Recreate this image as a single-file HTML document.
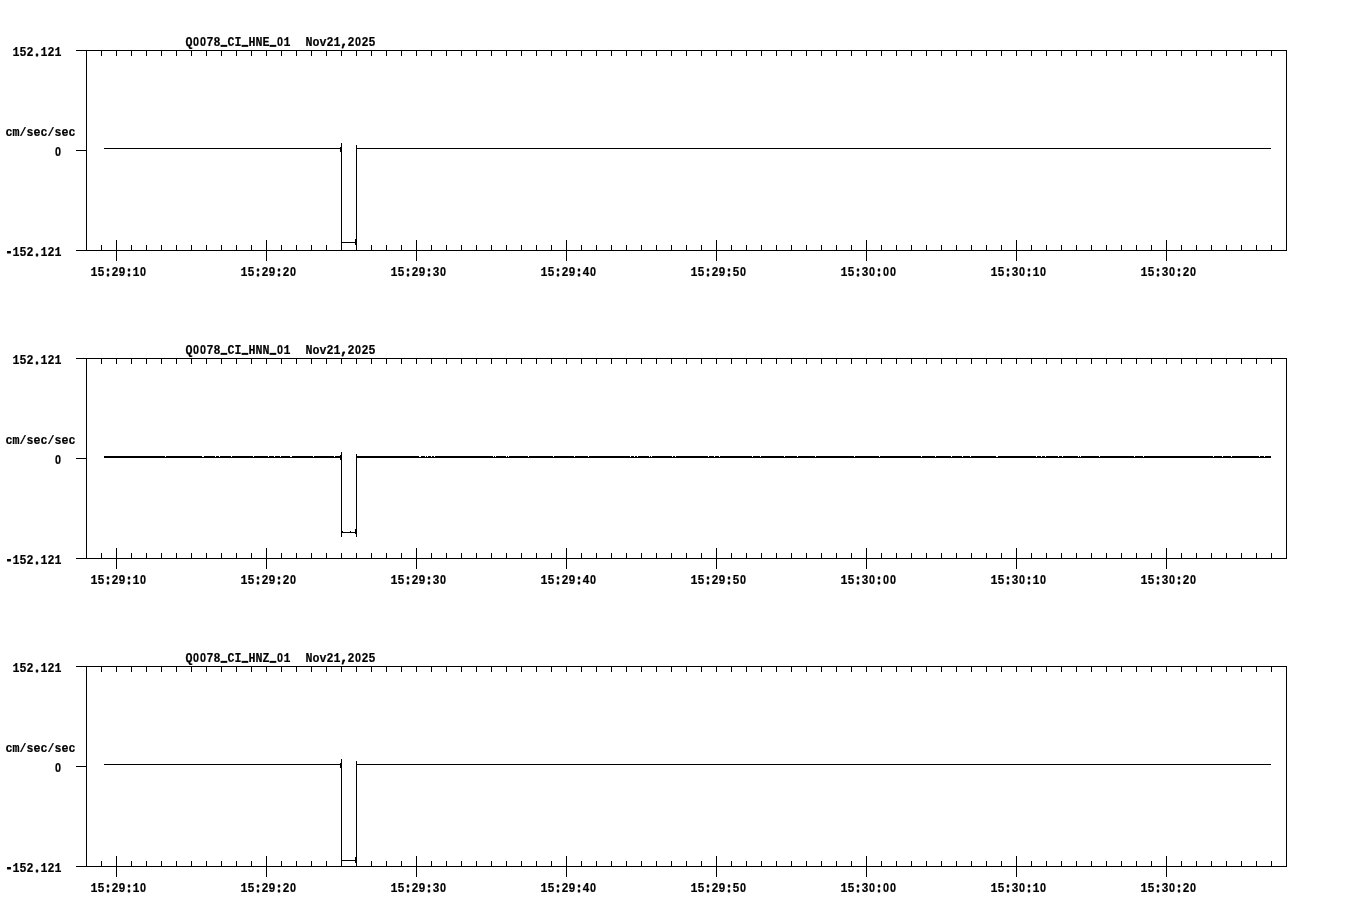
<!DOCTYPE html>
<html lang="en">
<head>
<meta charset="utf-8">
<title>Q0078 CI HN waveforms</title>
<style>
html,body{margin:0;padding:0;background:#fff;}
body{width:1358px;height:924px;overflow:hidden;}
svg{display:block;will-change:transform;}
svg rect{fill:#000;shape-rendering:crispEdges;}
svg text{font-family:"Liberation Mono", monospace;font-weight:bold;font-size:13.6px;fill:#000;stroke:#000;stroke-width:0.2px;stroke-linejoin:round;text-anchor:middle;white-space:pre;}
svg text .z{font-family:"Liberation Sans",sans-serif;font-size:12.6px;}
svg text .p{stroke-width:0.9px;}
svg text .u{font-size:10.4px;stroke-width:1.5px;stroke-linejoin:miter;text-rendering:geometricPrecision;}
</style>
</head>
<body>
<svg width="1358" height="924" viewBox="0 0 1358 924">
<g class="axes">
<rect x="76" y="50" width="1211" height="1"/>
<rect x="76" y="250" width="1211" height="1"/>
<rect x="86" y="50" width="1" height="201"/>
<rect x="1286" y="50" width="1" height="201"/>
<rect x="76" y="150" width="10" height="1"/>
<rect x="101" y="50" width="1" height="6"/>
<rect x="101" y="245" width="1" height="6"/>
<rect x="116" y="50" width="1" height="6"/>
<rect x="116" y="245" width="1" height="6"/>
<rect x="131" y="50" width="1" height="6"/>
<rect x="131" y="245" width="1" height="6"/>
<rect x="146" y="50" width="1" height="6"/>
<rect x="146" y="245" width="1" height="6"/>
<rect x="161" y="50" width="1" height="6"/>
<rect x="161" y="245" width="1" height="6"/>
<rect x="176" y="50" width="1" height="6"/>
<rect x="176" y="245" width="1" height="6"/>
<rect x="191" y="50" width="1" height="6"/>
<rect x="191" y="245" width="1" height="6"/>
<rect x="206" y="50" width="1" height="6"/>
<rect x="206" y="245" width="1" height="6"/>
<rect x="221" y="50" width="1" height="6"/>
<rect x="221" y="245" width="1" height="6"/>
<rect x="236" y="50" width="1" height="6"/>
<rect x="236" y="245" width="1" height="6"/>
<rect x="251" y="50" width="1" height="6"/>
<rect x="251" y="245" width="1" height="6"/>
<rect x="266" y="50" width="1" height="6"/>
<rect x="266" y="245" width="1" height="6"/>
<rect x="281" y="50" width="1" height="6"/>
<rect x="281" y="245" width="1" height="6"/>
<rect x="296" y="50" width="1" height="6"/>
<rect x="296" y="245" width="1" height="6"/>
<rect x="311" y="50" width="1" height="6"/>
<rect x="311" y="245" width="1" height="6"/>
<rect x="326" y="50" width="1" height="6"/>
<rect x="326" y="245" width="1" height="6"/>
<rect x="341" y="50" width="1" height="6"/>
<rect x="341" y="245" width="1" height="6"/>
<rect x="356" y="50" width="1" height="6"/>
<rect x="356" y="245" width="1" height="6"/>
<rect x="371" y="50" width="1" height="6"/>
<rect x="371" y="245" width="1" height="6"/>
<rect x="386" y="50" width="1" height="6"/>
<rect x="386" y="245" width="1" height="6"/>
<rect x="401" y="50" width="1" height="6"/>
<rect x="401" y="245" width="1" height="6"/>
<rect x="416" y="50" width="1" height="6"/>
<rect x="416" y="245" width="1" height="6"/>
<rect x="431" y="50" width="1" height="6"/>
<rect x="431" y="245" width="1" height="6"/>
<rect x="446" y="50" width="1" height="6"/>
<rect x="446" y="245" width="1" height="6"/>
<rect x="461" y="50" width="1" height="6"/>
<rect x="461" y="245" width="1" height="6"/>
<rect x="476" y="50" width="1" height="6"/>
<rect x="476" y="245" width="1" height="6"/>
<rect x="491" y="50" width="1" height="6"/>
<rect x="491" y="245" width="1" height="6"/>
<rect x="506" y="50" width="1" height="6"/>
<rect x="506" y="245" width="1" height="6"/>
<rect x="521" y="50" width="1" height="6"/>
<rect x="521" y="245" width="1" height="6"/>
<rect x="536" y="50" width="1" height="6"/>
<rect x="536" y="245" width="1" height="6"/>
<rect x="551" y="50" width="1" height="6"/>
<rect x="551" y="245" width="1" height="6"/>
<rect x="566" y="50" width="1" height="6"/>
<rect x="566" y="245" width="1" height="6"/>
<rect x="581" y="50" width="1" height="6"/>
<rect x="581" y="245" width="1" height="6"/>
<rect x="596" y="50" width="1" height="6"/>
<rect x="596" y="245" width="1" height="6"/>
<rect x="611" y="50" width="1" height="6"/>
<rect x="611" y="245" width="1" height="6"/>
<rect x="626" y="50" width="1" height="6"/>
<rect x="626" y="245" width="1" height="6"/>
<rect x="641" y="50" width="1" height="6"/>
<rect x="641" y="245" width="1" height="6"/>
<rect x="656" y="50" width="1" height="6"/>
<rect x="656" y="245" width="1" height="6"/>
<rect x="671" y="50" width="1" height="6"/>
<rect x="671" y="245" width="1" height="6"/>
<rect x="686" y="50" width="1" height="6"/>
<rect x="686" y="245" width="1" height="6"/>
<rect x="701" y="50" width="1" height="6"/>
<rect x="701" y="245" width="1" height="6"/>
<rect x="716" y="50" width="1" height="6"/>
<rect x="716" y="245" width="1" height="6"/>
<rect x="731" y="50" width="1" height="6"/>
<rect x="731" y="245" width="1" height="6"/>
<rect x="746" y="50" width="1" height="6"/>
<rect x="746" y="245" width="1" height="6"/>
<rect x="761" y="50" width="1" height="6"/>
<rect x="761" y="245" width="1" height="6"/>
<rect x="776" y="50" width="1" height="6"/>
<rect x="776" y="245" width="1" height="6"/>
<rect x="791" y="50" width="1" height="6"/>
<rect x="791" y="245" width="1" height="6"/>
<rect x="806" y="50" width="1" height="6"/>
<rect x="806" y="245" width="1" height="6"/>
<rect x="821" y="50" width="1" height="6"/>
<rect x="821" y="245" width="1" height="6"/>
<rect x="836" y="50" width="1" height="6"/>
<rect x="836" y="245" width="1" height="6"/>
<rect x="851" y="50" width="1" height="6"/>
<rect x="851" y="245" width="1" height="6"/>
<rect x="866" y="50" width="1" height="6"/>
<rect x="866" y="245" width="1" height="6"/>
<rect x="881" y="50" width="1" height="6"/>
<rect x="881" y="245" width="1" height="6"/>
<rect x="896" y="50" width="1" height="6"/>
<rect x="896" y="245" width="1" height="6"/>
<rect x="911" y="50" width="1" height="6"/>
<rect x="911" y="245" width="1" height="6"/>
<rect x="926" y="50" width="1" height="6"/>
<rect x="926" y="245" width="1" height="6"/>
<rect x="941" y="50" width="1" height="6"/>
<rect x="941" y="245" width="1" height="6"/>
<rect x="956" y="50" width="1" height="6"/>
<rect x="956" y="245" width="1" height="6"/>
<rect x="971" y="50" width="1" height="6"/>
<rect x="971" y="245" width="1" height="6"/>
<rect x="986" y="50" width="1" height="6"/>
<rect x="986" y="245" width="1" height="6"/>
<rect x="1001" y="50" width="1" height="6"/>
<rect x="1001" y="245" width="1" height="6"/>
<rect x="1016" y="50" width="1" height="6"/>
<rect x="1016" y="245" width="1" height="6"/>
<rect x="1031" y="50" width="1" height="6"/>
<rect x="1031" y="245" width="1" height="6"/>
<rect x="1046" y="50" width="1" height="6"/>
<rect x="1046" y="245" width="1" height="6"/>
<rect x="1061" y="50" width="1" height="6"/>
<rect x="1061" y="245" width="1" height="6"/>
<rect x="1076" y="50" width="1" height="6"/>
<rect x="1076" y="245" width="1" height="6"/>
<rect x="1091" y="50" width="1" height="6"/>
<rect x="1091" y="245" width="1" height="6"/>
<rect x="1106" y="50" width="1" height="6"/>
<rect x="1106" y="245" width="1" height="6"/>
<rect x="1121" y="50" width="1" height="6"/>
<rect x="1121" y="245" width="1" height="6"/>
<rect x="1136" y="50" width="1" height="6"/>
<rect x="1136" y="245" width="1" height="6"/>
<rect x="1151" y="50" width="1" height="6"/>
<rect x="1151" y="245" width="1" height="6"/>
<rect x="1166" y="50" width="1" height="6"/>
<rect x="1166" y="245" width="1" height="6"/>
<rect x="1181" y="50" width="1" height="6"/>
<rect x="1181" y="245" width="1" height="6"/>
<rect x="1196" y="50" width="1" height="6"/>
<rect x="1196" y="245" width="1" height="6"/>
<rect x="1211" y="50" width="1" height="6"/>
<rect x="1211" y="245" width="1" height="6"/>
<rect x="1226" y="50" width="1" height="6"/>
<rect x="1226" y="245" width="1" height="6"/>
<rect x="1241" y="50" width="1" height="6"/>
<rect x="1241" y="245" width="1" height="6"/>
<rect x="1256" y="50" width="1" height="6"/>
<rect x="1256" y="245" width="1" height="6"/>
<rect x="1271" y="50" width="1" height="6"/>
<rect x="1271" y="245" width="1" height="6"/>
<rect x="116" y="240" width="1" height="21"/>
<rect x="266" y="240" width="1" height="21"/>
<rect x="416" y="240" width="1" height="21"/>
<rect x="566" y="240" width="1" height="21"/>
<rect x="716" y="240" width="1" height="21"/>
<rect x="866" y="240" width="1" height="21"/>
<rect x="1016" y="240" width="1" height="21"/>
<rect x="1166" y="240" width="1" height="21"/>
</g>
<g class="trace">
<rect x="104" y="148" width="238" height="1"/>
<rect x="356" y="148" width="915" height="1"/>
<rect x="341" y="143" width="1" height="108"/>
<rect x="356" y="145" width="1" height="106"/>
<rect x="340" y="147" width="1" height="5"/>
<rect x="341" y="242" width="16" height="1"/>
<rect x="355" y="239" width="1" height="6"/>
</g>
<g class="labels">
<text aria-label="Q0078_CI_HNE_01  Nov21,2025" transform="translate(185.5,46) scale(0.8577,1)" x="4.08 12.24 20.40 28.56 36.73 44.89 53.05 61.21 69.37 77.53 85.69 93.86 102.02 110.18 118.34 127.67 135.83 143.99 152.15 160.31 168.47 176.63 184.80 192.96 201.12 209.28 217.44" y="0 0 0 0 0 -1 0 0 -1 0 0 0 -1 0 0 0 0 0 0 0 0 0 0 0 0 0 0">Q<tspan class="z">0</tspan><tspan class="z">0</tspan>78<tspan class="u">_</tspan>CI<tspan class="u">_</tspan>HNE<tspan class="u">_</tspan><tspan class="z">0</tspan>1  Nov21<tspan class="p">,</tspan>2<tspan class="z">0</tspan>25</text>
<text aria-label="152.121" transform="translate(12.5,56) scale(0.8577,1)" x="4.08 12.24 20.40 28.56 36.73 44.89 53.05" y="0 0 0 0 0 0 0">152<tspan class="p">.</tspan>121</text>
<text aria-label="cm/sec/sec" transform="translate(5.5,136) scale(0.8577,1)" x="4.08 12.24 20.40 28.56 36.73 44.89 53.05 61.21 69.37 77.53" y="0 0 0 0 0 0 0 0 0 0">cm/sec/sec</text>
<text aria-label="0" transform="translate(54.5,156) scale(0.8577,1)" x="4.08" y="0"><tspan class="z">0</tspan></text>
<text aria-label="-152.121" transform="translate(5.5,256) scale(0.8577,1)" x="4.08 12.24 20.40 28.56 36.73 44.89 53.05 61.21" y="0 0 0 0 0 0 0 0"><tspan class="p">-</tspan>152<tspan class="p">.</tspan>121</text>
<text aria-label="15:29:10" transform="translate(90.5,276) scale(0.8577,1)" x="4.08 12.24 20.40 28.56 36.73 44.89 53.05 61.21" y="0 0 0 0 0 0 0 0">15<tspan class="p">:</tspan>29<tspan class="p">:</tspan>1<tspan class="z">0</tspan></text>
<text aria-label="15:29:20" transform="translate(240.5,276) scale(0.8577,1)" x="4.08 12.24 20.40 28.56 36.73 44.89 53.05 61.21" y="0 0 0 0 0 0 0 0">15<tspan class="p">:</tspan>29<tspan class="p">:</tspan>2<tspan class="z">0</tspan></text>
<text aria-label="15:29:30" transform="translate(390.5,276) scale(0.8577,1)" x="4.08 12.24 20.40 28.56 36.73 44.89 53.05 61.21" y="0 0 0 0 0 0 0 0">15<tspan class="p">:</tspan>29<tspan class="p">:</tspan>3<tspan class="z">0</tspan></text>
<text aria-label="15:29:40" transform="translate(540.5,276) scale(0.8577,1)" x="4.08 12.24 20.40 28.56 36.73 44.89 53.05 61.21" y="0 0 0 0 0 0 0 0">15<tspan class="p">:</tspan>29<tspan class="p">:</tspan>4<tspan class="z">0</tspan></text>
<text aria-label="15:29:50" transform="translate(690.5,276) scale(0.8577,1)" x="4.08 12.24 20.40 28.56 36.73 44.89 53.05 61.21" y="0 0 0 0 0 0 0 0">15<tspan class="p">:</tspan>29<tspan class="p">:</tspan>5<tspan class="z">0</tspan></text>
<text aria-label="15:30:00" transform="translate(840.5,276) scale(0.8577,1)" x="4.08 12.24 20.40 28.56 36.73 44.89 53.05 61.21" y="0 0 0 0 0 0 0 0">15<tspan class="p">:</tspan>3<tspan class="z">0</tspan><tspan class="p">:</tspan><tspan class="z">0</tspan><tspan class="z">0</tspan></text>
<text aria-label="15:30:10" transform="translate(990.5,276) scale(0.8577,1)" x="4.08 12.24 20.40 28.56 36.73 44.89 53.05 61.21" y="0 0 0 0 0 0 0 0">15<tspan class="p">:</tspan>3<tspan class="z">0</tspan><tspan class="p">:</tspan>1<tspan class="z">0</tspan></text>
<text aria-label="15:30:20" transform="translate(1140.5,276) scale(0.8577,1)" x="4.08 12.24 20.40 28.56 36.73 44.89 53.05 61.21" y="0 0 0 0 0 0 0 0">15<tspan class="p">:</tspan>3<tspan class="z">0</tspan><tspan class="p">:</tspan>2<tspan class="z">0</tspan></text>
</g>
<g class="axes">
<rect x="76" y="358" width="1211" height="1"/>
<rect x="76" y="558" width="1211" height="1"/>
<rect x="86" y="358" width="1" height="201"/>
<rect x="1286" y="358" width="1" height="201"/>
<rect x="76" y="458" width="10" height="1"/>
<rect x="101" y="358" width="1" height="6"/>
<rect x="101" y="553" width="1" height="6"/>
<rect x="116" y="358" width="1" height="6"/>
<rect x="116" y="553" width="1" height="6"/>
<rect x="131" y="358" width="1" height="6"/>
<rect x="131" y="553" width="1" height="6"/>
<rect x="146" y="358" width="1" height="6"/>
<rect x="146" y="553" width="1" height="6"/>
<rect x="161" y="358" width="1" height="6"/>
<rect x="161" y="553" width="1" height="6"/>
<rect x="176" y="358" width="1" height="6"/>
<rect x="176" y="553" width="1" height="6"/>
<rect x="191" y="358" width="1" height="6"/>
<rect x="191" y="553" width="1" height="6"/>
<rect x="206" y="358" width="1" height="6"/>
<rect x="206" y="553" width="1" height="6"/>
<rect x="221" y="358" width="1" height="6"/>
<rect x="221" y="553" width="1" height="6"/>
<rect x="236" y="358" width="1" height="6"/>
<rect x="236" y="553" width="1" height="6"/>
<rect x="251" y="358" width="1" height="6"/>
<rect x="251" y="553" width="1" height="6"/>
<rect x="266" y="358" width="1" height="6"/>
<rect x="266" y="553" width="1" height="6"/>
<rect x="281" y="358" width="1" height="6"/>
<rect x="281" y="553" width="1" height="6"/>
<rect x="296" y="358" width="1" height="6"/>
<rect x="296" y="553" width="1" height="6"/>
<rect x="311" y="358" width="1" height="6"/>
<rect x="311" y="553" width="1" height="6"/>
<rect x="326" y="358" width="1" height="6"/>
<rect x="326" y="553" width="1" height="6"/>
<rect x="341" y="358" width="1" height="6"/>
<rect x="341" y="553" width="1" height="6"/>
<rect x="356" y="358" width="1" height="6"/>
<rect x="356" y="553" width="1" height="6"/>
<rect x="371" y="358" width="1" height="6"/>
<rect x="371" y="553" width="1" height="6"/>
<rect x="386" y="358" width="1" height="6"/>
<rect x="386" y="553" width="1" height="6"/>
<rect x="401" y="358" width="1" height="6"/>
<rect x="401" y="553" width="1" height="6"/>
<rect x="416" y="358" width="1" height="6"/>
<rect x="416" y="553" width="1" height="6"/>
<rect x="431" y="358" width="1" height="6"/>
<rect x="431" y="553" width="1" height="6"/>
<rect x="446" y="358" width="1" height="6"/>
<rect x="446" y="553" width="1" height="6"/>
<rect x="461" y="358" width="1" height="6"/>
<rect x="461" y="553" width="1" height="6"/>
<rect x="476" y="358" width="1" height="6"/>
<rect x="476" y="553" width="1" height="6"/>
<rect x="491" y="358" width="1" height="6"/>
<rect x="491" y="553" width="1" height="6"/>
<rect x="506" y="358" width="1" height="6"/>
<rect x="506" y="553" width="1" height="6"/>
<rect x="521" y="358" width="1" height="6"/>
<rect x="521" y="553" width="1" height="6"/>
<rect x="536" y="358" width="1" height="6"/>
<rect x="536" y="553" width="1" height="6"/>
<rect x="551" y="358" width="1" height="6"/>
<rect x="551" y="553" width="1" height="6"/>
<rect x="566" y="358" width="1" height="6"/>
<rect x="566" y="553" width="1" height="6"/>
<rect x="581" y="358" width="1" height="6"/>
<rect x="581" y="553" width="1" height="6"/>
<rect x="596" y="358" width="1" height="6"/>
<rect x="596" y="553" width="1" height="6"/>
<rect x="611" y="358" width="1" height="6"/>
<rect x="611" y="553" width="1" height="6"/>
<rect x="626" y="358" width="1" height="6"/>
<rect x="626" y="553" width="1" height="6"/>
<rect x="641" y="358" width="1" height="6"/>
<rect x="641" y="553" width="1" height="6"/>
<rect x="656" y="358" width="1" height="6"/>
<rect x="656" y="553" width="1" height="6"/>
<rect x="671" y="358" width="1" height="6"/>
<rect x="671" y="553" width="1" height="6"/>
<rect x="686" y="358" width="1" height="6"/>
<rect x="686" y="553" width="1" height="6"/>
<rect x="701" y="358" width="1" height="6"/>
<rect x="701" y="553" width="1" height="6"/>
<rect x="716" y="358" width="1" height="6"/>
<rect x="716" y="553" width="1" height="6"/>
<rect x="731" y="358" width="1" height="6"/>
<rect x="731" y="553" width="1" height="6"/>
<rect x="746" y="358" width="1" height="6"/>
<rect x="746" y="553" width="1" height="6"/>
<rect x="761" y="358" width="1" height="6"/>
<rect x="761" y="553" width="1" height="6"/>
<rect x="776" y="358" width="1" height="6"/>
<rect x="776" y="553" width="1" height="6"/>
<rect x="791" y="358" width="1" height="6"/>
<rect x="791" y="553" width="1" height="6"/>
<rect x="806" y="358" width="1" height="6"/>
<rect x="806" y="553" width="1" height="6"/>
<rect x="821" y="358" width="1" height="6"/>
<rect x="821" y="553" width="1" height="6"/>
<rect x="836" y="358" width="1" height="6"/>
<rect x="836" y="553" width="1" height="6"/>
<rect x="851" y="358" width="1" height="6"/>
<rect x="851" y="553" width="1" height="6"/>
<rect x="866" y="358" width="1" height="6"/>
<rect x="866" y="553" width="1" height="6"/>
<rect x="881" y="358" width="1" height="6"/>
<rect x="881" y="553" width="1" height="6"/>
<rect x="896" y="358" width="1" height="6"/>
<rect x="896" y="553" width="1" height="6"/>
<rect x="911" y="358" width="1" height="6"/>
<rect x="911" y="553" width="1" height="6"/>
<rect x="926" y="358" width="1" height="6"/>
<rect x="926" y="553" width="1" height="6"/>
<rect x="941" y="358" width="1" height="6"/>
<rect x="941" y="553" width="1" height="6"/>
<rect x="956" y="358" width="1" height="6"/>
<rect x="956" y="553" width="1" height="6"/>
<rect x="971" y="358" width="1" height="6"/>
<rect x="971" y="553" width="1" height="6"/>
<rect x="986" y="358" width="1" height="6"/>
<rect x="986" y="553" width="1" height="6"/>
<rect x="1001" y="358" width="1" height="6"/>
<rect x="1001" y="553" width="1" height="6"/>
<rect x="1016" y="358" width="1" height="6"/>
<rect x="1016" y="553" width="1" height="6"/>
<rect x="1031" y="358" width="1" height="6"/>
<rect x="1031" y="553" width="1" height="6"/>
<rect x="1046" y="358" width="1" height="6"/>
<rect x="1046" y="553" width="1" height="6"/>
<rect x="1061" y="358" width="1" height="6"/>
<rect x="1061" y="553" width="1" height="6"/>
<rect x="1076" y="358" width="1" height="6"/>
<rect x="1076" y="553" width="1" height="6"/>
<rect x="1091" y="358" width="1" height="6"/>
<rect x="1091" y="553" width="1" height="6"/>
<rect x="1106" y="358" width="1" height="6"/>
<rect x="1106" y="553" width="1" height="6"/>
<rect x="1121" y="358" width="1" height="6"/>
<rect x="1121" y="553" width="1" height="6"/>
<rect x="1136" y="358" width="1" height="6"/>
<rect x="1136" y="553" width="1" height="6"/>
<rect x="1151" y="358" width="1" height="6"/>
<rect x="1151" y="553" width="1" height="6"/>
<rect x="1166" y="358" width="1" height="6"/>
<rect x="1166" y="553" width="1" height="6"/>
<rect x="1181" y="358" width="1" height="6"/>
<rect x="1181" y="553" width="1" height="6"/>
<rect x="1196" y="358" width="1" height="6"/>
<rect x="1196" y="553" width="1" height="6"/>
<rect x="1211" y="358" width="1" height="6"/>
<rect x="1211" y="553" width="1" height="6"/>
<rect x="1226" y="358" width="1" height="6"/>
<rect x="1226" y="553" width="1" height="6"/>
<rect x="1241" y="358" width="1" height="6"/>
<rect x="1241" y="553" width="1" height="6"/>
<rect x="1256" y="358" width="1" height="6"/>
<rect x="1256" y="553" width="1" height="6"/>
<rect x="1271" y="358" width="1" height="6"/>
<rect x="1271" y="553" width="1" height="6"/>
<rect x="116" y="548" width="1" height="21"/>
<rect x="266" y="548" width="1" height="21"/>
<rect x="416" y="548" width="1" height="21"/>
<rect x="566" y="548" width="1" height="21"/>
<rect x="716" y="548" width="1" height="21"/>
<rect x="866" y="548" width="1" height="21"/>
<rect x="1016" y="548" width="1" height="21"/>
<rect x="1166" y="548" width="1" height="21"/>
</g>
<g class="trace">
<rect x="104" y="457" width="238" height="1"/>
<rect x="356" y="457" width="915" height="1"/>
<rect x="104" y="456" width="61" height="1"/>
<rect x="166" y="456" width="36" height="1"/>
<rect x="204" y="456" width="11" height="1"/>
<rect x="216" y="456" width="3" height="1"/>
<rect x="220" y="456" width="11" height="1"/>
<rect x="232" y="456" width="21" height="1"/>
<rect x="254" y="456" width="14" height="1"/>
<rect x="269" y="456" width="5" height="1"/>
<rect x="275" y="456" width="5" height="1"/>
<rect x="281" y="456" width="9" height="1"/>
<rect x="292" y="456" width="21" height="1"/>
<rect x="314" y="456" width="20" height="1"/>
<rect x="335" y="456" width="7" height="1"/>
<rect x="356" y="456" width="63" height="1"/>
<rect x="421" y="456" width="4" height="1"/>
<rect x="426" y="456" width="1" height="1"/>
<rect x="428" y="456" width="3" height="1"/>
<rect x="432" y="456" width="2" height="1"/>
<rect x="435" y="456" width="58" height="1"/>
<rect x="494" y="456" width="1" height="1"/>
<rect x="496" y="456" width="10" height="1"/>
<rect x="507" y="456" width="1" height="1"/>
<rect x="509" y="456" width="19" height="1"/>
<rect x="529" y="456" width="24" height="1"/>
<rect x="554" y="456" width="20" height="1"/>
<rect x="575" y="456" width="13" height="1"/>
<rect x="589" y="456" width="41" height="1"/>
<rect x="631" y="456" width="3" height="1"/>
<rect x="635" y="456" width="2" height="1"/>
<rect x="638" y="456" width="11" height="1"/>
<rect x="650" y="456" width="1" height="1"/>
<rect x="652" y="456" width="20" height="1"/>
<rect x="673" y="456" width="2" height="1"/>
<rect x="676" y="456" width="32" height="1"/>
<rect x="709" y="456" width="5" height="1"/>
<rect x="715" y="456" width="4" height="1"/>
<rect x="720" y="456" width="32" height="1"/>
<rect x="753" y="456" width="7" height="1"/>
<rect x="761" y="456" width="23" height="1"/>
<rect x="785" y="456" width="12" height="1"/>
<rect x="798" y="456" width="17" height="1"/>
<rect x="816" y="456" width="38" height="1"/>
<rect x="855" y="456" width="24" height="1"/>
<rect x="880" y="456" width="41" height="1"/>
<rect x="922" y="456" width="13" height="1"/>
<rect x="936" y="456" width="15" height="1"/>
<rect x="952" y="456" width="10" height="1"/>
<rect x="963" y="456" width="7" height="1"/>
<rect x="971" y="456" width="25" height="1"/>
<rect x="998" y="456" width="38" height="1"/>
<rect x="1037" y="456" width="4" height="1"/>
<rect x="1042" y="456" width="3" height="1"/>
<rect x="1046" y="456" width="12" height="1"/>
<rect x="1059" y="456" width="3" height="1"/>
<rect x="1063" y="456" width="15" height="1"/>
<rect x="1079" y="456" width="1" height="1"/>
<rect x="1081" y="456" width="18" height="1"/>
<rect x="1100" y="456" width="34" height="1"/>
<rect x="1135" y="456" width="8" height="1"/>
<rect x="1144" y="456" width="69" height="1"/>
<rect x="1214" y="456" width="8" height="1"/>
<rect x="1223" y="456" width="8" height="1"/>
<rect x="1232" y="456" width="27" height="1"/>
<rect x="1260" y="456" width="4" height="1"/>
<rect x="1265" y="456" width="6" height="1"/>
<rect x="341" y="452" width="1" height="85"/>
<rect x="356" y="454" width="1" height="83"/>
<rect x="340" y="455" width="1" height="5"/>
<rect x="341" y="532" width="16" height="1"/>
<rect x="342" y="531" width="1" height="1"/>
<rect x="350" y="531" width="1" height="1"/>
<rect x="355" y="529" width="1" height="5"/>
</g>
<g class="labels">
<text aria-label="Q0078_CI_HNN_01  Nov21,2025" transform="translate(185.5,354) scale(0.8577,1)" x="4.08 12.24 20.40 28.56 36.73 44.89 53.05 61.21 69.37 77.53 85.69 93.86 102.02 110.18 118.34 127.67 135.83 143.99 152.15 160.31 168.47 176.63 184.80 192.96 201.12 209.28 217.44" y="0 0 0 0 0 -1 0 0 -1 0 0 0 -1 0 0 0 0 0 0 0 0 0 0 0 0 0 0">Q<tspan class="z">0</tspan><tspan class="z">0</tspan>78<tspan class="u">_</tspan>CI<tspan class="u">_</tspan>HNN<tspan class="u">_</tspan><tspan class="z">0</tspan>1  Nov21<tspan class="p">,</tspan>2<tspan class="z">0</tspan>25</text>
<text aria-label="152.121" transform="translate(12.5,364) scale(0.8577,1)" x="4.08 12.24 20.40 28.56 36.73 44.89 53.05" y="0 0 0 0 0 0 0">152<tspan class="p">.</tspan>121</text>
<text aria-label="cm/sec/sec" transform="translate(5.5,444) scale(0.8577,1)" x="4.08 12.24 20.40 28.56 36.73 44.89 53.05 61.21 69.37 77.53" y="0 0 0 0 0 0 0 0 0 0">cm/sec/sec</text>
<text aria-label="0" transform="translate(54.5,464) scale(0.8577,1)" x="4.08" y="0"><tspan class="z">0</tspan></text>
<text aria-label="-152.121" transform="translate(5.5,564) scale(0.8577,1)" x="4.08 12.24 20.40 28.56 36.73 44.89 53.05 61.21" y="0 0 0 0 0 0 0 0"><tspan class="p">-</tspan>152<tspan class="p">.</tspan>121</text>
<text aria-label="15:29:10" transform="translate(90.5,584) scale(0.8577,1)" x="4.08 12.24 20.40 28.56 36.73 44.89 53.05 61.21" y="0 0 0 0 0 0 0 0">15<tspan class="p">:</tspan>29<tspan class="p">:</tspan>1<tspan class="z">0</tspan></text>
<text aria-label="15:29:20" transform="translate(240.5,584) scale(0.8577,1)" x="4.08 12.24 20.40 28.56 36.73 44.89 53.05 61.21" y="0 0 0 0 0 0 0 0">15<tspan class="p">:</tspan>29<tspan class="p">:</tspan>2<tspan class="z">0</tspan></text>
<text aria-label="15:29:30" transform="translate(390.5,584) scale(0.8577,1)" x="4.08 12.24 20.40 28.56 36.73 44.89 53.05 61.21" y="0 0 0 0 0 0 0 0">15<tspan class="p">:</tspan>29<tspan class="p">:</tspan>3<tspan class="z">0</tspan></text>
<text aria-label="15:29:40" transform="translate(540.5,584) scale(0.8577,1)" x="4.08 12.24 20.40 28.56 36.73 44.89 53.05 61.21" y="0 0 0 0 0 0 0 0">15<tspan class="p">:</tspan>29<tspan class="p">:</tspan>4<tspan class="z">0</tspan></text>
<text aria-label="15:29:50" transform="translate(690.5,584) scale(0.8577,1)" x="4.08 12.24 20.40 28.56 36.73 44.89 53.05 61.21" y="0 0 0 0 0 0 0 0">15<tspan class="p">:</tspan>29<tspan class="p">:</tspan>5<tspan class="z">0</tspan></text>
<text aria-label="15:30:00" transform="translate(840.5,584) scale(0.8577,1)" x="4.08 12.24 20.40 28.56 36.73 44.89 53.05 61.21" y="0 0 0 0 0 0 0 0">15<tspan class="p">:</tspan>3<tspan class="z">0</tspan><tspan class="p">:</tspan><tspan class="z">0</tspan><tspan class="z">0</tspan></text>
<text aria-label="15:30:10" transform="translate(990.5,584) scale(0.8577,1)" x="4.08 12.24 20.40 28.56 36.73 44.89 53.05 61.21" y="0 0 0 0 0 0 0 0">15<tspan class="p">:</tspan>3<tspan class="z">0</tspan><tspan class="p">:</tspan>1<tspan class="z">0</tspan></text>
<text aria-label="15:30:20" transform="translate(1140.5,584) scale(0.8577,1)" x="4.08 12.24 20.40 28.56 36.73 44.89 53.05 61.21" y="0 0 0 0 0 0 0 0">15<tspan class="p">:</tspan>3<tspan class="z">0</tspan><tspan class="p">:</tspan>2<tspan class="z">0</tspan></text>
</g>
<g class="axes">
<rect x="76" y="666" width="1211" height="1"/>
<rect x="76" y="866" width="1211" height="1"/>
<rect x="86" y="666" width="1" height="201"/>
<rect x="1286" y="666" width="1" height="201"/>
<rect x="76" y="766" width="10" height="1"/>
<rect x="101" y="666" width="1" height="6"/>
<rect x="101" y="861" width="1" height="6"/>
<rect x="116" y="666" width="1" height="6"/>
<rect x="116" y="861" width="1" height="6"/>
<rect x="131" y="666" width="1" height="6"/>
<rect x="131" y="861" width="1" height="6"/>
<rect x="146" y="666" width="1" height="6"/>
<rect x="146" y="861" width="1" height="6"/>
<rect x="161" y="666" width="1" height="6"/>
<rect x="161" y="861" width="1" height="6"/>
<rect x="176" y="666" width="1" height="6"/>
<rect x="176" y="861" width="1" height="6"/>
<rect x="191" y="666" width="1" height="6"/>
<rect x="191" y="861" width="1" height="6"/>
<rect x="206" y="666" width="1" height="6"/>
<rect x="206" y="861" width="1" height="6"/>
<rect x="221" y="666" width="1" height="6"/>
<rect x="221" y="861" width="1" height="6"/>
<rect x="236" y="666" width="1" height="6"/>
<rect x="236" y="861" width="1" height="6"/>
<rect x="251" y="666" width="1" height="6"/>
<rect x="251" y="861" width="1" height="6"/>
<rect x="266" y="666" width="1" height="6"/>
<rect x="266" y="861" width="1" height="6"/>
<rect x="281" y="666" width="1" height="6"/>
<rect x="281" y="861" width="1" height="6"/>
<rect x="296" y="666" width="1" height="6"/>
<rect x="296" y="861" width="1" height="6"/>
<rect x="311" y="666" width="1" height="6"/>
<rect x="311" y="861" width="1" height="6"/>
<rect x="326" y="666" width="1" height="6"/>
<rect x="326" y="861" width="1" height="6"/>
<rect x="341" y="666" width="1" height="6"/>
<rect x="341" y="861" width="1" height="6"/>
<rect x="356" y="666" width="1" height="6"/>
<rect x="356" y="861" width="1" height="6"/>
<rect x="371" y="666" width="1" height="6"/>
<rect x="371" y="861" width="1" height="6"/>
<rect x="386" y="666" width="1" height="6"/>
<rect x="386" y="861" width="1" height="6"/>
<rect x="401" y="666" width="1" height="6"/>
<rect x="401" y="861" width="1" height="6"/>
<rect x="416" y="666" width="1" height="6"/>
<rect x="416" y="861" width="1" height="6"/>
<rect x="431" y="666" width="1" height="6"/>
<rect x="431" y="861" width="1" height="6"/>
<rect x="446" y="666" width="1" height="6"/>
<rect x="446" y="861" width="1" height="6"/>
<rect x="461" y="666" width="1" height="6"/>
<rect x="461" y="861" width="1" height="6"/>
<rect x="476" y="666" width="1" height="6"/>
<rect x="476" y="861" width="1" height="6"/>
<rect x="491" y="666" width="1" height="6"/>
<rect x="491" y="861" width="1" height="6"/>
<rect x="506" y="666" width="1" height="6"/>
<rect x="506" y="861" width="1" height="6"/>
<rect x="521" y="666" width="1" height="6"/>
<rect x="521" y="861" width="1" height="6"/>
<rect x="536" y="666" width="1" height="6"/>
<rect x="536" y="861" width="1" height="6"/>
<rect x="551" y="666" width="1" height="6"/>
<rect x="551" y="861" width="1" height="6"/>
<rect x="566" y="666" width="1" height="6"/>
<rect x="566" y="861" width="1" height="6"/>
<rect x="581" y="666" width="1" height="6"/>
<rect x="581" y="861" width="1" height="6"/>
<rect x="596" y="666" width="1" height="6"/>
<rect x="596" y="861" width="1" height="6"/>
<rect x="611" y="666" width="1" height="6"/>
<rect x="611" y="861" width="1" height="6"/>
<rect x="626" y="666" width="1" height="6"/>
<rect x="626" y="861" width="1" height="6"/>
<rect x="641" y="666" width="1" height="6"/>
<rect x="641" y="861" width="1" height="6"/>
<rect x="656" y="666" width="1" height="6"/>
<rect x="656" y="861" width="1" height="6"/>
<rect x="671" y="666" width="1" height="6"/>
<rect x="671" y="861" width="1" height="6"/>
<rect x="686" y="666" width="1" height="6"/>
<rect x="686" y="861" width="1" height="6"/>
<rect x="701" y="666" width="1" height="6"/>
<rect x="701" y="861" width="1" height="6"/>
<rect x="716" y="666" width="1" height="6"/>
<rect x="716" y="861" width="1" height="6"/>
<rect x="731" y="666" width="1" height="6"/>
<rect x="731" y="861" width="1" height="6"/>
<rect x="746" y="666" width="1" height="6"/>
<rect x="746" y="861" width="1" height="6"/>
<rect x="761" y="666" width="1" height="6"/>
<rect x="761" y="861" width="1" height="6"/>
<rect x="776" y="666" width="1" height="6"/>
<rect x="776" y="861" width="1" height="6"/>
<rect x="791" y="666" width="1" height="6"/>
<rect x="791" y="861" width="1" height="6"/>
<rect x="806" y="666" width="1" height="6"/>
<rect x="806" y="861" width="1" height="6"/>
<rect x="821" y="666" width="1" height="6"/>
<rect x="821" y="861" width="1" height="6"/>
<rect x="836" y="666" width="1" height="6"/>
<rect x="836" y="861" width="1" height="6"/>
<rect x="851" y="666" width="1" height="6"/>
<rect x="851" y="861" width="1" height="6"/>
<rect x="866" y="666" width="1" height="6"/>
<rect x="866" y="861" width="1" height="6"/>
<rect x="881" y="666" width="1" height="6"/>
<rect x="881" y="861" width="1" height="6"/>
<rect x="896" y="666" width="1" height="6"/>
<rect x="896" y="861" width="1" height="6"/>
<rect x="911" y="666" width="1" height="6"/>
<rect x="911" y="861" width="1" height="6"/>
<rect x="926" y="666" width="1" height="6"/>
<rect x="926" y="861" width="1" height="6"/>
<rect x="941" y="666" width="1" height="6"/>
<rect x="941" y="861" width="1" height="6"/>
<rect x="956" y="666" width="1" height="6"/>
<rect x="956" y="861" width="1" height="6"/>
<rect x="971" y="666" width="1" height="6"/>
<rect x="971" y="861" width="1" height="6"/>
<rect x="986" y="666" width="1" height="6"/>
<rect x="986" y="861" width="1" height="6"/>
<rect x="1001" y="666" width="1" height="6"/>
<rect x="1001" y="861" width="1" height="6"/>
<rect x="1016" y="666" width="1" height="6"/>
<rect x="1016" y="861" width="1" height="6"/>
<rect x="1031" y="666" width="1" height="6"/>
<rect x="1031" y="861" width="1" height="6"/>
<rect x="1046" y="666" width="1" height="6"/>
<rect x="1046" y="861" width="1" height="6"/>
<rect x="1061" y="666" width="1" height="6"/>
<rect x="1061" y="861" width="1" height="6"/>
<rect x="1076" y="666" width="1" height="6"/>
<rect x="1076" y="861" width="1" height="6"/>
<rect x="1091" y="666" width="1" height="6"/>
<rect x="1091" y="861" width="1" height="6"/>
<rect x="1106" y="666" width="1" height="6"/>
<rect x="1106" y="861" width="1" height="6"/>
<rect x="1121" y="666" width="1" height="6"/>
<rect x="1121" y="861" width="1" height="6"/>
<rect x="1136" y="666" width="1" height="6"/>
<rect x="1136" y="861" width="1" height="6"/>
<rect x="1151" y="666" width="1" height="6"/>
<rect x="1151" y="861" width="1" height="6"/>
<rect x="1166" y="666" width="1" height="6"/>
<rect x="1166" y="861" width="1" height="6"/>
<rect x="1181" y="666" width="1" height="6"/>
<rect x="1181" y="861" width="1" height="6"/>
<rect x="1196" y="666" width="1" height="6"/>
<rect x="1196" y="861" width="1" height="6"/>
<rect x="1211" y="666" width="1" height="6"/>
<rect x="1211" y="861" width="1" height="6"/>
<rect x="1226" y="666" width="1" height="6"/>
<rect x="1226" y="861" width="1" height="6"/>
<rect x="1241" y="666" width="1" height="6"/>
<rect x="1241" y="861" width="1" height="6"/>
<rect x="1256" y="666" width="1" height="6"/>
<rect x="1256" y="861" width="1" height="6"/>
<rect x="1271" y="666" width="1" height="6"/>
<rect x="1271" y="861" width="1" height="6"/>
<rect x="116" y="856" width="1" height="21"/>
<rect x="266" y="856" width="1" height="21"/>
<rect x="416" y="856" width="1" height="21"/>
<rect x="566" y="856" width="1" height="21"/>
<rect x="716" y="856" width="1" height="21"/>
<rect x="866" y="856" width="1" height="21"/>
<rect x="1016" y="856" width="1" height="21"/>
<rect x="1166" y="856" width="1" height="21"/>
</g>
<g class="trace">
<rect x="104" y="764" width="238" height="1"/>
<rect x="356" y="764" width="915" height="1"/>
<rect x="341" y="759" width="1" height="108"/>
<rect x="356" y="761" width="1" height="106"/>
<rect x="340" y="763" width="1" height="5"/>
<rect x="341" y="860" width="16" height="1"/>
<rect x="355" y="857" width="1" height="6"/>
</g>
<g class="labels">
<text aria-label="Q0078_CI_HNZ_01  Nov21,2025" transform="translate(185.5,662) scale(0.8577,1)" x="4.08 12.24 20.40 28.56 36.73 44.89 53.05 61.21 69.37 77.53 85.69 93.86 102.02 110.18 118.34 127.67 135.83 143.99 152.15 160.31 168.47 176.63 184.80 192.96 201.12 209.28 217.44" y="0 0 0 0 0 -1 0 0 -1 0 0 0 -1 0 0 0 0 0 0 0 0 0 0 0 0 0 0">Q<tspan class="z">0</tspan><tspan class="z">0</tspan>78<tspan class="u">_</tspan>CI<tspan class="u">_</tspan>HNZ<tspan class="u">_</tspan><tspan class="z">0</tspan>1  Nov21<tspan class="p">,</tspan>2<tspan class="z">0</tspan>25</text>
<text aria-label="152.121" transform="translate(12.5,672) scale(0.8577,1)" x="4.08 12.24 20.40 28.56 36.73 44.89 53.05" y="0 0 0 0 0 0 0">152<tspan class="p">.</tspan>121</text>
<text aria-label="cm/sec/sec" transform="translate(5.5,752) scale(0.8577,1)" x="4.08 12.24 20.40 28.56 36.73 44.89 53.05 61.21 69.37 77.53" y="0 0 0 0 0 0 0 0 0 0">cm/sec/sec</text>
<text aria-label="0" transform="translate(54.5,772) scale(0.8577,1)" x="4.08" y="0"><tspan class="z">0</tspan></text>
<text aria-label="-152.121" transform="translate(5.5,872) scale(0.8577,1)" x="4.08 12.24 20.40 28.56 36.73 44.89 53.05 61.21" y="0 0 0 0 0 0 0 0"><tspan class="p">-</tspan>152<tspan class="p">.</tspan>121</text>
<text aria-label="15:29:10" transform="translate(90.5,892) scale(0.8577,1)" x="4.08 12.24 20.40 28.56 36.73 44.89 53.05 61.21" y="0 0 0 0 0 0 0 0">15<tspan class="p">:</tspan>29<tspan class="p">:</tspan>1<tspan class="z">0</tspan></text>
<text aria-label="15:29:20" transform="translate(240.5,892) scale(0.8577,1)" x="4.08 12.24 20.40 28.56 36.73 44.89 53.05 61.21" y="0 0 0 0 0 0 0 0">15<tspan class="p">:</tspan>29<tspan class="p">:</tspan>2<tspan class="z">0</tspan></text>
<text aria-label="15:29:30" transform="translate(390.5,892) scale(0.8577,1)" x="4.08 12.24 20.40 28.56 36.73 44.89 53.05 61.21" y="0 0 0 0 0 0 0 0">15<tspan class="p">:</tspan>29<tspan class="p">:</tspan>3<tspan class="z">0</tspan></text>
<text aria-label="15:29:40" transform="translate(540.5,892) scale(0.8577,1)" x="4.08 12.24 20.40 28.56 36.73 44.89 53.05 61.21" y="0 0 0 0 0 0 0 0">15<tspan class="p">:</tspan>29<tspan class="p">:</tspan>4<tspan class="z">0</tspan></text>
<text aria-label="15:29:50" transform="translate(690.5,892) scale(0.8577,1)" x="4.08 12.24 20.40 28.56 36.73 44.89 53.05 61.21" y="0 0 0 0 0 0 0 0">15<tspan class="p">:</tspan>29<tspan class="p">:</tspan>5<tspan class="z">0</tspan></text>
<text aria-label="15:30:00" transform="translate(840.5,892) scale(0.8577,1)" x="4.08 12.24 20.40 28.56 36.73 44.89 53.05 61.21" y="0 0 0 0 0 0 0 0">15<tspan class="p">:</tspan>3<tspan class="z">0</tspan><tspan class="p">:</tspan><tspan class="z">0</tspan><tspan class="z">0</tspan></text>
<text aria-label="15:30:10" transform="translate(990.5,892) scale(0.8577,1)" x="4.08 12.24 20.40 28.56 36.73 44.89 53.05 61.21" y="0 0 0 0 0 0 0 0">15<tspan class="p">:</tspan>3<tspan class="z">0</tspan><tspan class="p">:</tspan>1<tspan class="z">0</tspan></text>
<text aria-label="15:30:20" transform="translate(1140.5,892) scale(0.8577,1)" x="4.08 12.24 20.40 28.56 36.73 44.89 53.05 61.21" y="0 0 0 0 0 0 0 0">15<tspan class="p">:</tspan>3<tspan class="z">0</tspan><tspan class="p">:</tspan>2<tspan class="z">0</tspan></text>
</g>
</svg>
</body>
</html>
